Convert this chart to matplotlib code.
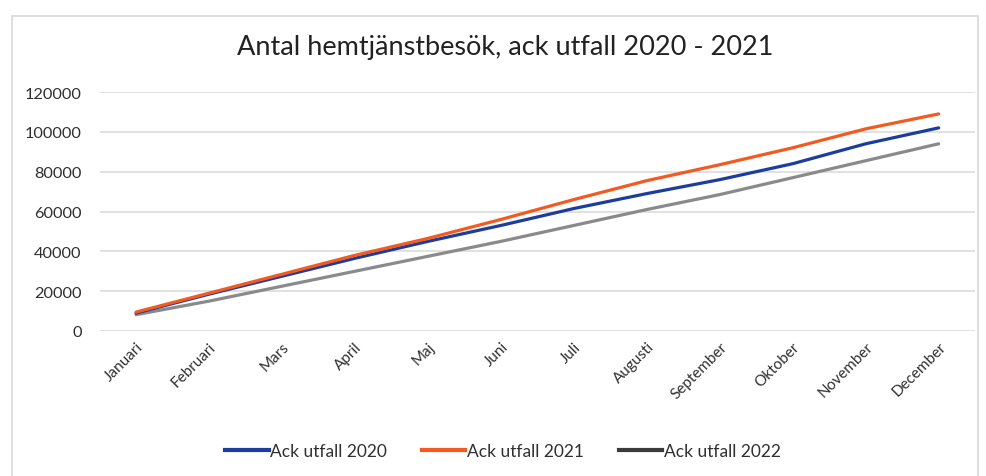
import matplotlib
matplotlib.use("Agg")
import matplotlib.pyplot as plt
from matplotlib.lines import Line2D
from matplotlib.patches import Rectangle

months = ["Januari", "Februari", "Mars", "April", "Maj", "Juni", "Juli",
          "Augusti", "September", "Oktober", "November", "December"]
ack_2020 = [9000, 18500, 27500, 36500, 45000, 53000, 61500, 69000, 76000, 84000, 94000, 102000]
ack_2021 = [9500, 19000, 28500, 38000, 46500, 56000, 66000, 75500, 83500, 92000, 101500, 109000]
ack_2022 = [8200, 15000, 22500, 30000, 37500, 45000, 53000, 61000, 68500, 77000, 85500, 94000]
yticks = [0, 20000, 40000, 60000, 80000, 100000, 120000]
title = "Antal hemtjänstbesök, ack utfall 2020 - 2021"
labels = ["Ack utfall 2020", "Ack utfall 2021", "Ack utfall 2022"]

plt.rcParams['font.family'] = ['Lato', 'DejaVu Sans']

fig = plt.figure(figsize=(9.86, 4.77), dpi=100)
ax = fig.add_axes([0.101, 0.304, 0.888, 0.501])

c_blue, c_orange, c_gray = "#1d3d9c", "#f25a22", "#8a8a8a"
x = list(range(len(months)))
ax.plot(x, ack_2022, color=c_gray, lw=2.3, solid_capstyle='round')
ax.plot(x, ack_2020, color=c_blue, lw=2.3, solid_capstyle='round')
ax.plot(x, ack_2021, color=c_orange, lw=2.3, solid_capstyle='round')

ax.set_xlim(-0.5, 11.5)
ax.set_ylim(0, 120000)
ax.set_yticks(yticks)
ax.set_yticklabels([str(v) for v in yticks], fontsize=11.8, color="#303030")
ax.set_xticks(x)
ax.set_xticklabels(months, rotation=45, ha='right', rotation_mode='anchor',
                   fontsize=11, color="#303030")
ax.tick_params(axis='both', length=0)
ax.tick_params(axis='y', pad=13)
ax.tick_params(axis='x', pad=6)
ax.grid(axis='y', color="#dcdcdc", lw=1.2)
ax.set_axisbelow(True)
for s in ax.spines.values():
    s.set_visible(False)

fig.text(0.512, 0.9, title, ha='center', va='center', fontsize=19.5, color="#222222")

handles = [Line2D([], [], color=c_blue, lw=3),
           Line2D([], [], color=c_orange, lw=3),
           Line2D([], [], color="#3a3a3a", lw=3)]
fig.legend(handles, labels, loc='center', bbox_to_anchor=(0.51, 0.052), ncol=3,
           frameon=False, fontsize=12.5, handlelength=2.5, handletextpad=0.1,
           columnspacing=2.0, labelcolor="#303030")

fig.patches.append(Rectangle((0.012, -0.01), 0.98, 0.975, transform=fig.transFigure,
                             fill=False, edgecolor="#d8d8d8", lw=1.2))

fig.savefig("out.png", dpi=100, facecolor="white")
